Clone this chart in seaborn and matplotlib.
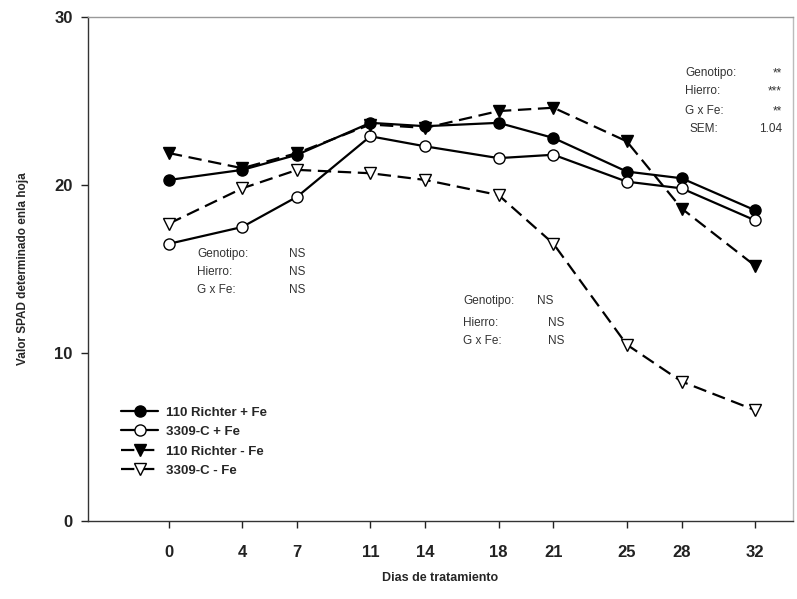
import numpy as np
import pandas as pd
import matplotlib
matplotlib.use("Agg")
import matplotlib.pyplot as plt
import seaborn as sns

# ---- data ----
days = [0, 4, 7, 11, 14, 18, 21, 25, 28, 32]
richter_pfe = [20.3, 20.9, 21.8, 23.7, 23.5, 23.7, 22.8, 20.8, 20.4, 18.5]
c3309_pfe = [16.5, 17.5, 19.3, 22.9, 22.3, 21.6, 21.8, 20.2, 19.8, 17.9]
richter_mfe = [21.9, 21.0, 21.9, 23.6, 23.4, 24.4, 24.6, 22.6, 18.6, 15.2]
c3309_mfe = [17.7, 19.8, 20.9, 20.7, 20.3, 19.4, 16.5, 10.5, 8.3, 6.6]
series_names = ["110 Richter + Fe", "3309-C + Fe", "110 Richter - Fe", "3309-C - Fe"]
series_values = [richter_pfe, c3309_pfe, richter_mfe, c3309_mfe]
yticks = [0, 10, 20, 30]

sns.set_theme(style="ticks")
plt.rcParams['font.family'] = ['Liberation Sans', 'DejaVu Sans']

fig = plt.figure(figsize=(7.97, 5.99), dpi=100)
ax = fig.add_axes([88/797, 1-521/599, (793-88)/797, (521-17)/599])

styles = {
    "110 Richter + Fe": dict(marker="o", markerfacecolor="black", linestyle="-"),
    "3309-C + Fe": dict(marker="o", markerfacecolor="white", linestyle="-"),
    "110 Richter - Fe": dict(marker="v", markerfacecolor="black", linestyle=(0, (6, 3))),
    "3309-C - Fe": dict(marker="v", markerfacecolor="white", linestyle=(0, (6, 3))),
}
for name, vals in zip(series_names, series_values):
    df = pd.DataFrame({"dia": days, "spad": vals})
    st = styles[name]
    sns.lineplot(data=df, x="dia", y="spad", ax=ax, color="black", linewidth=1.6,
                 marker=st["marker"], markersize=8, markerfacecolor=st["markerfacecolor"],
                 markeredgecolor="black", markeredgewidth=1.0,
                 linestyle=st["linestyle"], label=name, zorder=3)

ax.set_xlim(-4.42, 34.08)
ax.set_ylim(0, 30)
ax.set_xticks(days)
ax.set_yticks(yticks)
tickfont = dict(family=['Liberation Sans Narrow', 'Liberation Sans', 'DejaVu Sans'],
                weight='bold', size=12)
ax.set_xticklabels([str(d) for d in days], fontdict=tickfont)
ax.set_yticklabels([str(v) for v in yticks], fontdict=tickfont)
ax.tick_params(axis='x', direction='out', length=5, width=1, pad=12, colors='#222222')
ax.tick_params(axis='y', direction='out', length=5, width=1, pad=6, colors='#222222')
for sp in ax.spines.values():
    sp.set_linewidth(1.0)
    sp.set_color('#333333')
ax.spines['top'].set_color('#999999')
ax.spines['right'].set_color('#bbbbbb')

ax.set_xlabel("Dias de tratamiento", fontsize=9, fontweight='bold', labelpad=9)
ax.set_ylabel("Valor SPAD determinado enla hoja", fontsize=8.5, fontweight='bold', labelpad=18)

leg = ax.legend(loc='upper left', bbox_to_anchor=(0.04, 0.238), frameon=False,
                prop=dict(weight='bold', size=9.5), handlelength=2.8,
                handletextpad=0.6, labelspacing=0.55, borderaxespad=0)

# annotations (pixel positions converted to data coordinates)
tcol = '#333333'
fs = 8.5
def txt(x, y, s, ha='left'):
    ax.text(x, y, s, fontsize=fs, color=tcol, ha=ha, va='center', transform=ax.transData)

def px2data(px, py):
    xd = -4.42 + (px - 88) / (793 - 88) * (34.08 + 4.42)
    yd = (521 - py) / (521 - 17) * 30
    return xd, yd

for (lab, val, py) in [("Genotipo:", "NS", 254), ("Hierro:", "NS", 272), ("G x Fe:", "NS", 290)]:
    x1, y1 = px2data(197, py)
    x2, _ = px2data(289, py)
    txt(x1, y1, lab); txt(x2, y1, val)

for (lab, val, py, vx) in [("Genotipo:", "NS", 301, 537), ("Hierro:", "NS", 323, 548), ("G x Fe:", "NS", 341, 548)]:
    x1, y1 = px2data(463, py)
    x2, _ = px2data(vx, py)
    txt(x1, y1, lab); txt(x2, y1, val)

for (lab, val, py, lx) in [("Genotipo:", "**", 73, 685), ("Hierro:", "***", 91, 685),
                           ("G x Fe:", "**", 111, 685), ("SEM:", "1.04", 129, 689)]:
    x1, y1 = px2data(lx, py)
    x2, _ = px2data(782, py)
    txt(x1, y1, lab); txt(x2, y1, val, ha='right')

fig.savefig("out.png", dpi=100)
